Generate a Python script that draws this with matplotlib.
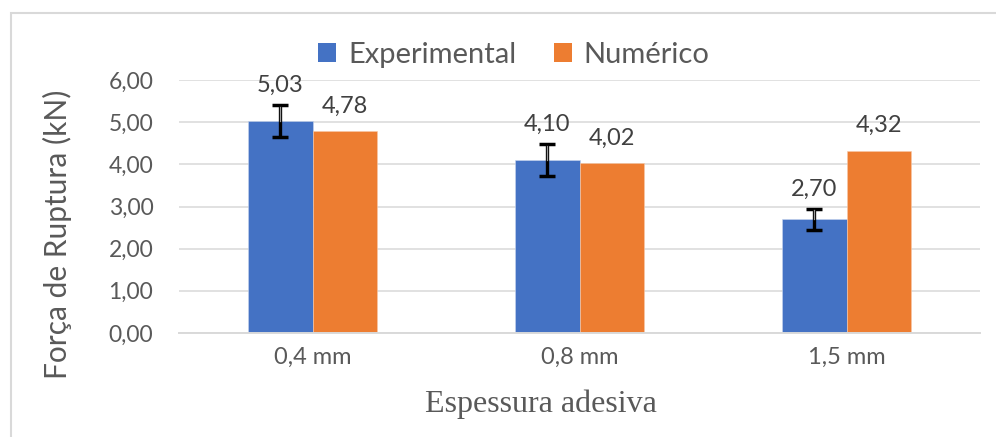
import matplotlib
matplotlib.use("Agg")
import matplotlib.pyplot as plt
import numpy as np
from matplotlib.patches import Rectangle, Patch

categories = ["0,4 mm", "0,8 mm", "1,5 mm"]
experimental = [5.03, 4.10, 2.70]
experimental_err = [0.37, 0.38, 0.25]
numerico = [4.78, 4.02, 4.32]
yticks = [0, 1, 2, 3, 4, 5, 6]

BLUE = "#4472C4"
ORANGE = "#ED7D31"
GRAY_TXT = "#595959"
GRID = "#D9D9D9"
SANS = ["Lato", "DejaVu Sans"]
SERIF = ["Liberation Serif", "DejaVu Serif"]

def fmt(v):
    return f"{v:.2f}".replace(".", ",")

fig = plt.figure(figsize=(9.96, 4.37), dpi=100)
ax = fig.add_axes([179 / 996, 1 - 333 / 437, (980 - 179) / 996, (333 - 80) / 437])

# chart area frame
fig.patches.append(Rectangle((10.5 / 996, -0.05), 1.2, (437 - 12.5) / 437 + 0.05,
                             transform=fig.transFigure, fill=False,
                             edgecolor=GRID, linewidth=1.5, zorder=0))

x = np.arange(len(categories))
w = 0.24
ax.bar(x - w / 2, experimental, w, color=BLUE, edgecolor="#C9D6EE", linewidth=0.4, zorder=2)
ax.bar(x + w / 2, numerico, w, color=ORANGE, edgecolor="#F7C9A9", linewidth=0.4, zorder=2)

ax.errorbar(x - w / 2, experimental, yerr=experimental_err, fmt="none",
            ecolor="black", elinewidth=2.4, capsize=6, capthick=2.5, zorder=3)
for xi, v, e in zip(x - w / 2, experimental, experimental_err):
    ax.plot([xi, xi], [v, v + e * 0.88], color="#9A9A9A", linewidth=0.9, zorder=4)

px = 72 / 100
for xi, v, e in zip(x - w / 2, experimental, experimental_err):
    ax.annotate(fmt(v), (xi, v + e), xytext=(0, 13 * px), textcoords="offset points",
                ha="center", va="baseline", fontsize=17, color="#404040", family=SANS, zorder=5)
for xi, v in zip(x + w / 2, numerico):
    ax.annotate(fmt(v), (xi, v), xytext=(0, 19 * px), textcoords="offset points",
                ha="center", va="baseline", fontsize=17, color="#404040", family=SANS, zorder=5)

ax.set_xlim(-0.5, len(categories) - 0.5)
ax.set_ylim(0, 6)
ax.set_yticks(yticks)
ax.set_yticklabels([fmt(t) for t in yticks], fontsize=16.5, color=GRAY_TXT, family=SANS)
ax.set_xticks(x)
ax.set_xticklabels(categories, fontsize=17, color=GRAY_TXT, family=SANS)
ax.tick_params(axis="both", length=0)
ax.tick_params(axis="y", pad=18.5)
ax.tick_params(axis="x", pad=10)
ax.grid(axis="y", color=GRID, linewidth=1.1, zorder=0)
ax.set_axisbelow(True)
for s in ["top", "right", "left"]:
    ax.spines[s].set_visible(False)
ax.spines["bottom"].set_color(GRID)
ax.spines["bottom"].set_linewidth(1.4)

fig.text(57 / 996, 1 - 234 / 437, "Força de Ruptura (kN)", rotation=90,
         ha="center", va="center", fontsize=21.5, color=GRAY_TXT, family=SANS)
fig.text(541 / 996, 1 - 404 / 437, "Espessura adesiva",
         ha="center", va="center", fontsize=23, color=GRAY_TXT, family=SERIF)

handles = [Patch(facecolor=BLUE), Patch(facecolor=ORANGE)]
fig.legend(handles, ["Experimental", "Numérico"], loc="center",
           bbox_to_anchor=(514 / 996, 1 - 55 / 437), ncol=2, frameon=False,
           prop={"family": SANS, "size": 21}, labelcolor=GRAY_TXT,
           handlelength=0.62, handleheight=0.62, handletextpad=0.4, columnspacing=1.3)

fig.savefig("out.png", dpi=100, facecolor="white")
